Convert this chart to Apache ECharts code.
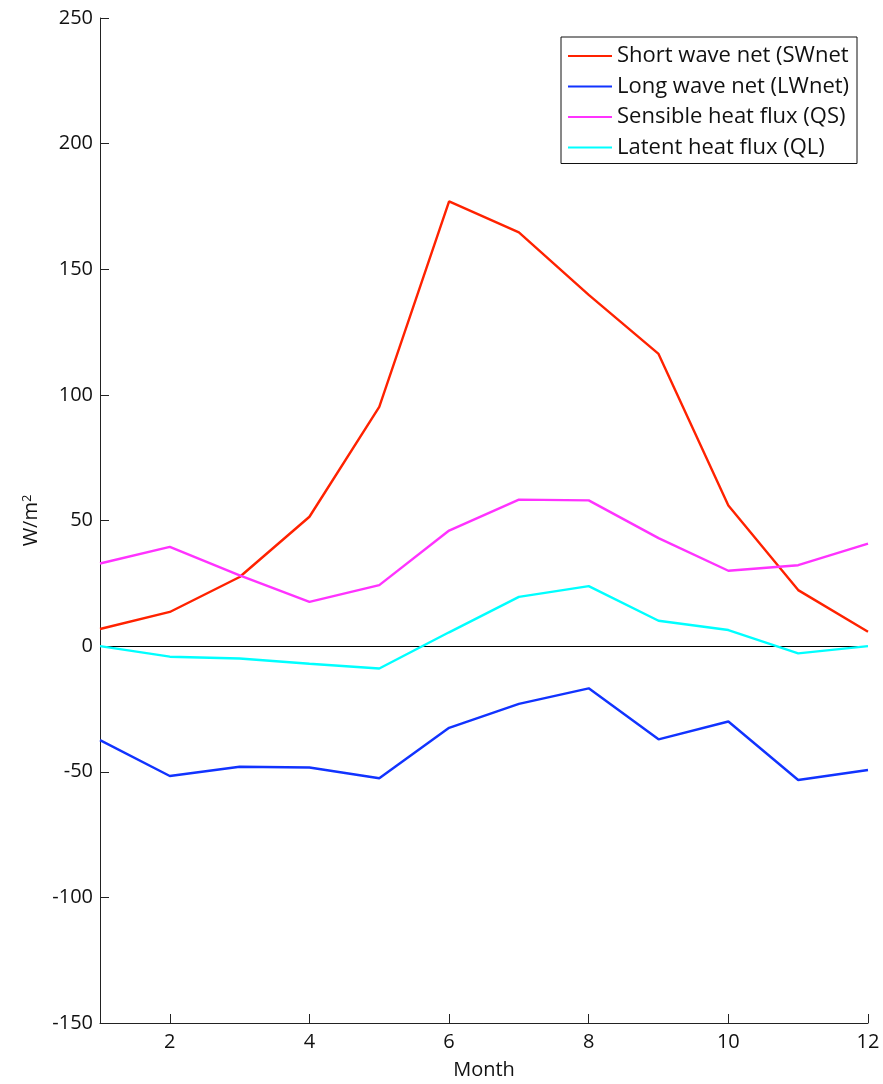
<!DOCTYPE html>
<html>
<head>
<meta charset="utf-8">
<script src="https://cdn.jsdelivr.net/npm/echarts@6/dist/echarts.min.js"></script>
<style>
html,body{margin:0;padding:0;background:#fff;}
#chart{width:883px;height:1084px;}
</style>
</head>
<body>
<div id="chart"></div>
<script>
// ---- data ----
const months = [1, 2, 3, 4, 5, 6, 7, 8, 9, 10, 11, 12];
const swNet = [6.8, 13.6, 27.5, 51.5, 95.2, 177, 164.7, 139.8, 116.3, 56, 22.3, 5.7];
const lwNet = [-37.4, -51.7, -48, -48.3, -52.6, -32.5, -23, -16.8, -37.1, -30, -53.3, -49.3];
const qs = [32.9, 39.5, 28.2, 17.6, 24.3, 46, 58.3, 58, 43, 30, 32.2, 40.8];
const ql = [0, -4.2, -4.9, -7, -8.9, 5.5, 19.6, 23.9, 10.1, 6.4, -2.9, 0];
const seriesNames = ['Short wave net (SWnet)', 'Long wave net (LWnet)', 'Sensible heat flux (QS)', 'Latent heat flux (QL)'];
const xTicks = [2, 4, 6, 8, 10, 12];
const yTicks = [-150, -100, -50, 0, 50, 100, 150, 200, 250];

const colors = ['#ff2200', '#1133ff', '#ff33ff', '#00ffff'];
const values = [swNet, lwNet, qs, ql];

const chart = echarts.init(document.getElementById('chart'), null, {renderer: 'canvas'});
const font = 'Open Sans, DejaVu Sans, sans-serif';

const series = values.map((v, i) => ({
  name: seriesNames[i],
  type: 'line',
  data: months.map((m, j) => [m, v[j]]),
  symbol: 'none',
  lineStyle: {color: colors[i], width: 2.4},
  itemStyle: {color: colors[i]},
  z: 3,
  animation: false
}));
series[0].markLine = {
  silent: true,
  symbol: 'none',
  label: {show: false},
  lineStyle: {color: '#000', width: 1, type: 'solid'},
  data: [{yAxis: 0}],
  z: 2,
  animation: false
};

chart.setOption({
  animation: false,
  backgroundColor: '#fff',
  grid: {left: 100, right: 15, top: 18, bottom: 61, containLabel: false, outerBoundsMode: 'none'},
  legend: {
    orient: 'vertical',
    left: 561,
    top: 37,
    padding: [8, 6, 5, 7],
    icon: 'rect',
    itemWidth: 44,
    itemHeight: 2,
    itemGap: 8.5,
    backgroundColor: '#fff',
    borderColor: '#111',
    borderWidth: 1,
    borderRadius: 0,
    data: seriesNames,
    textStyle: {
      fontFamily: font, fontSize: 22, color: '#111', lineHeight: 20,
      width: 234, overflow: 'truncate', ellipsis: ''
    }
  },
  xAxis: {
    type: 'value',
    min: 1,
    max: 12,
    name: 'Month',
    nameLocation: 'middle',
    nameGap: 37,
    nameTextStyle: {fontFamily: font, fontSize: 20, color: '#111'},
    splitLine: {show: false},
    axisLine: {show: true, onZero: false, lineStyle: {color: '#222', width: 1}},
    axisTick: {show: true, inside: true, length: 9, customValues: xTicks, lineStyle: {color: '#222'}},
    axisLabel: {customValues: xTicks, fontFamily: font, fontSize: 20, color: '#111', margin: 9}
  },
  yAxis: {
    type: 'value',
    min: -150,
    max: 250,
    interval: 50,
    name: 'W/m{sup|2}',
    nameLocation: 'middle',
    nameGap: 56,
    nameTextStyle: {
      fontFamily: font, fontSize: 20, color: '#111',
      rich: {sup: {fontFamily: font, fontSize: 13, color: '#111', verticalAlign: 'top', padding: [0, 0, 8, 0]}}
    },
    splitLine: {show: false},
    axisLine: {show: true, onZero: false, lineStyle: {color: '#222', width: 1}},
    axisTick: {show: true, inside: true, length: 9, customValues: yTicks, lineStyle: {color: '#222'}},
    axisLabel: {customValues: yTicks, fontFamily: font, fontSize: 20, color: '#111', margin: 7}
  },
  series: series
});
</script>
</body>
</html>
